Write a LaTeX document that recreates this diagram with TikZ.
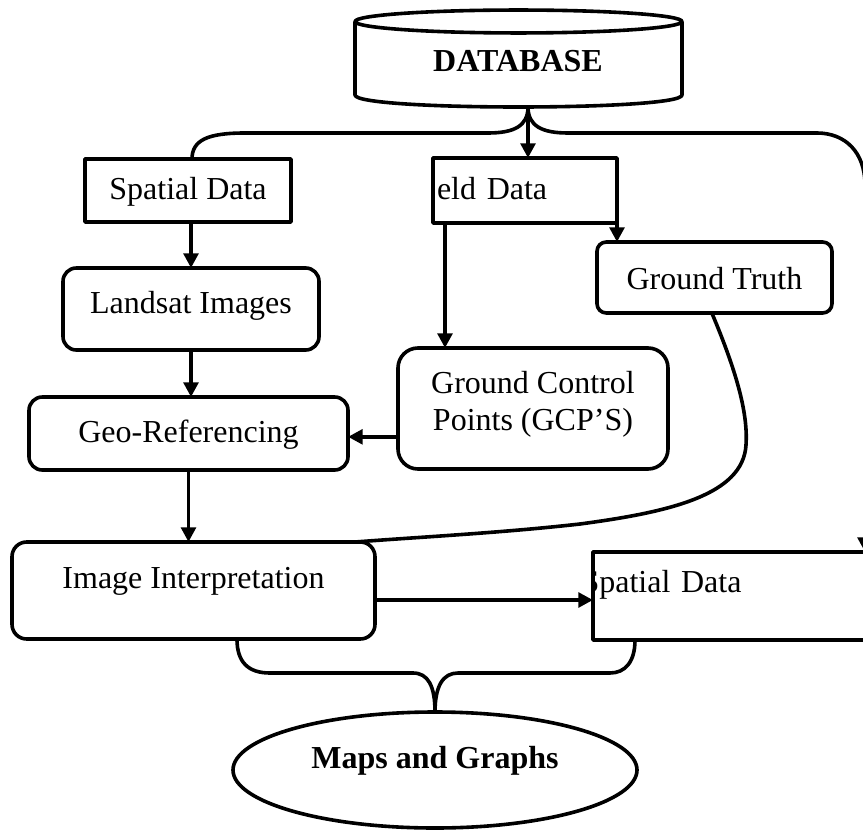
\documentclass[tikz,border=0pt]{standalone}
\usepackage{fontspec}
\setmainfont{Liberation Serif}
\usetikzlibrary{arrows.meta,shapes.geometric}
\begin{document}
\begin{tikzpicture}[x=0.75pt,y=-0.75pt,
  line/.style={line width=2.7pt, line join=round},
  arrow/.style={line, -{Triangle[width=11pt,length=11pt]}},
  every node/.style={font=\fontsize{24}{27.75}\selectfont, inner sep=0pt, outer sep=0pt},
  plainbox/.style={line, draw, anchor=north west, align=center},
  roundbox/.style={plainbox, rounded corners=10pt},
  boldtext/.style={font=\fontsize{24}{27.75}\selectfont\bfseries},
]
\useasboundingbox (0,0) rectangle (863,834);
\fill[white] (0,0) rectangle (863,834);
\clip (0,0) rectangle (863,834);

% database cylinder
\draw[line] (355,21.5) -- (355,95) .. controls (355,111) and (682,111) .. (682,95) -- (682,21.5);
\draw[line] (518.5,21.5) ellipse [x radius=122.6pt, y radius=8.6pt];
\node[boldtext, anchor=base] (db) at (518,72) {DATABASE};
\coordinate (dbfoot) at (528,107);

% boxes
\node[plainbox, minimum width=154.5pt, text height=30.75pt, text depth=16.5pt] (sdl) at (85,159) {Spatial Data};
\node[plainbox, text width=132pt, inner xsep=3pt, align=left, text height=31.5pt, text depth=17.25pt] (fd) at (433,158) {eld Data};
\node[roundbox, minimum width=192pt, text height=33.75pt, text depth=27.75pt] (li) at (63,268) {Landsat Images};
\node[roundbox, minimum width=239.25pt, text height=33.75pt, text depth=21pt] (geo) at (29,397) {Geo-Referencing};
\node[roundbox, rounded corners=11pt, minimum width=272.25pt, text height=34.5pt, text depth=38.25pt] (ii) at (12,542) {Image Interpretation};
\node[roundbox, rounded corners=15pt, minimum width=202.5pt, text height=33.75pt, text depth=57pt] (gcp) at (398,348)
  {\begin{tabular}[t]{@{}c@{}}Ground Control\\Points (GCP’S)\end{tabular}};
\node[roundbox, rounded corners=7pt, minimum width=176.25pt, text height=35.25pt, text depth=18pt] (gt) at (597,242) {Ground Truth};
\begin{scope}
  \clip (591,540) rectangle (870,660);
  \node[plainbox, text width=225pt, align=left, text height=30pt, text depth=36pt] (sdr) at (593,552) {\hspace*{-8.6pt}Spatial Data};
\end{scope}
\node[line, draw, ellipse, boldtext, minimum width=303pt, minimum height=87pt, text height=15pt, text depth=18pt] (mg) at (435,770) {Maps and Graphs};

% helper coordinates
\coordinate (rt) at (865,0);
\coordinate (row) at (0,600);

% brace below the database
\draw[arrow] ([xshift=3pt]sdl.north) .. controls (192,140) and (208,133) .. (245,133) -- (488,133)
  .. controls (514,133) and (528,126) .. (dbfoot)
  .. controls (528,126) and (542,133) .. (568,133) -- (817,133)
  .. controls (845,133) and (865,152) .. (865,185) -- (rt |- sdr.north);

% arrows
\draw[arrow] (dbfoot) -- (dbfoot |- fd.north);
\draw[arrow] ([xshift=9pt]fd.south west) -- ([xshift=9pt]fd.south west |- gcp.north);
\draw[arrow] (fd.south east) -- (fd.south east |- gt.north);
\draw[arrow] (li.north |- sdl.south) -- (li.north);
\draw[arrow] (li.south) -- (li.south |- geo.north);
\draw[arrow] (geo.south) -- (geo.south |- ii.north);
\draw[arrow] ([yshift=-2.5pt]gcp.west |- geo.east) -- ([yshift=-2.5pt]geo.east);
\draw[arrow] (ii.east |- row) -- (sdr.west |- row);

% ground truth link
\draw[line] ([xshift=-2pt]gt.south) .. controls (738,375) and (748,415) .. (746,445)
  .. controls (743,495) and (670,512) .. (580,524)
  .. controls (500,533) and (420,537) .. ([xshift=-15pt]ii.north east);

% brace into the maps
\draw[line] ([xshift=32.6pt]ii.south) .. controls (237,662) and (248,673) .. (270,673) -- (413,673)
  .. controls (428,673) and (435,686) .. (mg.north)
  .. controls (435,686) and (443,673) .. (458,673) -- (610,673)
  .. controls (625,673) and (635,662) .. ([xshift=31.5pt]sdr.south west);
\end{tikzpicture}
\end{document}
